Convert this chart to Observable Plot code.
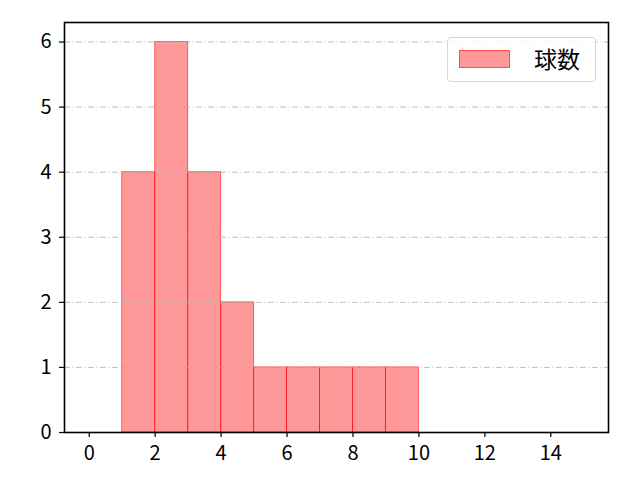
<!DOCTYPE html>
<html>
<head>
<meta charset="utf-8">
<script src="https://cdn.jsdelivr.net/npm/d3@7"></script>
<script src="https://cdn.jsdelivr.net/npm/@observablehq/plot@0.6"></script>
<style>
  html, body { margin: 0; padding: 0; background: #fff; }
  #wrap { position: relative; width: 640px; height: 480px; font-family: "Noto Sans CJK JP", "DejaVu Sans", sans-serif; }
  #wrap svg text { font-size: 20px !important; font-family: "Noto Sans CJK JP", "DejaVu Sans", sans-serif !important; fill: #000; }
  #legend { position: absolute; left: 447px; top: 37px; width: 149px; height: 45px; box-sizing: border-box;
    border: 1px solid #d5d5d5; border-radius: 4px; background: rgba(255,255,255,0.8); }
  #legend .sw { position: absolute; left: 11px; top: 12px; width: 51px; height: 18px; background: rgba(255,0,0,0.4); border: 1px solid rgba(255,0,0,0.5); box-sizing: border-box; }
  #legend .lb { position: absolute; left: 86px; top: 5px; font-size: 23px; color: #000; line-height: 30px; }
</style>
</head>
<body>
<div id="wrap"></div>
<script>
const binStart = [1, 2, 3, 4, 5, 6, 7, 8, 9];
const binEnd   = [2, 3, 4, 5, 6, 7, 8, 9, 10];
const counts   = [4, 6, 4, 2, 1, 1, 1, 1, 1];
const xTicks = [0, 2, 4, 6, 8, 10, 12, 14];
const yTicks = [0, 1, 2, 3, 4, 5, 6];
const gridY = [1, 2, 3, 4, 5, 6];
const seriesLabel = "球数";

const bins = binStart.map((s, i) => ({x1: s, x2: binEnd[i], y: counts[i]}));

const chart = Plot.plot({
  width: 640,
  height: 480,
  marginLeft: 64,
  marginRight: 32,
  marginTop: 22,
  marginBottom: 48,
  style: {fontFamily: "'Noto Sans CJK JP', 'DejaVu Sans', sans-serif", fontSize: "20px", color: "#000", background: "#fff"},
  x: {domain: [-0.75, 15.75], label: null},
  y: {domain: [0, 6.3], label: null},
  marks: [
    Plot.rectY(bins, {x1: "x1", x2: "x2", y: "y", fill: "red", fillOpacity: 0.4, stroke: "red", strokeOpacity: 0.55, strokeWidth: 1, inset: 0}),
    Plot.ruleY(gridY, {stroke: "#b0b0b0", strokeWidth: 0.8, strokeDasharray: "6,2.5,1,2.5"}),
    Plot.axisX({ticks: xTicks, tickFormat: "d", tickSize: 5, tickPadding: 8, fontSize: 20, strokeWidth: 1.2, label: null}),
    Plot.axisY({ticks: yTicks, tickFormat: "d", tickSize: 5, tickPadding: 8, fontSize: 20, strokeWidth: 1.2, label: null}),
    Plot.frame({stroke: "#000", strokeWidth: 1.6})
  ]
});

const wrap = document.getElementById("wrap");
wrap.appendChild(chart);
const lg = document.createElement("div");
lg.id = "legend";
lg.innerHTML = '<div class="sw"></div><div class="lb"></div>';
lg.querySelector(".lb").textContent = seriesLabel;
wrap.appendChild(lg);
</script>
</body>
</html>
